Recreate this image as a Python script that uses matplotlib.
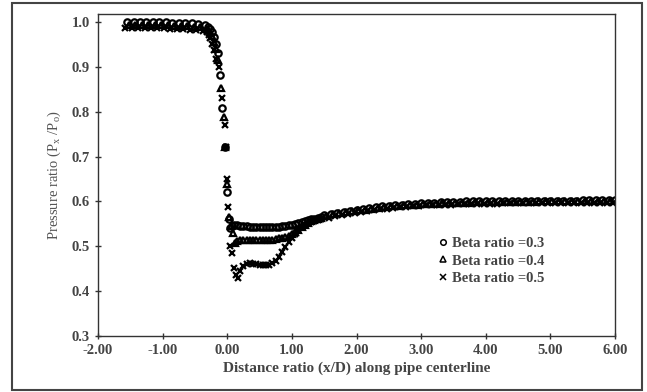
import numpy as np
import matplotlib.pyplot as plt
from matplotlib.patches import Rectangle
from matplotlib.lines import Line2D

# upstream plateau (x/D, P/Po) for each beta ratio
p_up_03 = [1.000, 1.000, 1.000, 1.000, 1.000, 1.000, 1.000, 0.999, 0.999, 0.998, 0.997, 0.996, 0.993]
p_up_04 = [0.993, 0.993, 0.993, 0.993, 0.993, 0.993, 0.993, 0.992, 0.992, 0.991, 0.990, 0.988, 0.985]
p_up_05 = [0.986, 0.986, 0.986, 0.986, 0.986, 0.986, 0.986, 0.985, 0.985, 0.984, 0.983, 0.982, 0.980]

# steep drop through the orifice
x_drop_03 = [-0.30, -0.27, -0.24, -0.21, -0.18, -0.15, -0.11, -0.08, -0.03, -0.01, 0.02, 0.05, 0.08, 0.11, 0.15]
p_drop_03 = [0.990, 0.985, 0.978, 0.967, 0.952, 0.930, 0.881, 0.808, 0.721, 0.621, 0.560, 0.541, 0.545, 0.547, 0.547]
x_drop_04 = [-0.30, -0.27, -0.24, -0.21, -0.18, -0.15, -0.10, -0.05, -0.03, -0.01, 0.03, 0.06, 0.09, 0.12]
p_drop_04 = [0.982, 0.977, 0.969, 0.956, 0.939, 0.915, 0.852, 0.788, 0.722, 0.640, 0.566, 0.545, 0.530, 0.507]
x_drop_05 = [-0.32, -0.29, -0.26, -0.23, -0.20, -0.17, -0.13, -0.08, -0.04, -0.02, -0.01, 0.015,
             0.05, 0.08, 0.11, 0.14, 0.17, 0.20]
p_drop_05 = [0.977, 0.972, 0.964, 0.952, 0.937, 0.917, 0.899, 0.830, 0.770, 0.722, 0.651, 0.588,
             0.500, 0.485, 0.452, 0.436, 0.430, 0.445]

# recirculation zone behind the orifice (step 0.05)
p_near_03 = [0.546, 0.545, 0.545, 0.544, 0.544, 0.543, 0.543, 0.543, 0.543, 0.543, 0.543, 0.544, 0.544,
             0.545, 0.546, 0.547, 0.548, 0.550, 0.552, 0.554, 0.556, 0.558, 0.560, 0.562, 0.564, 0.566]
p_near_04 = [0.512, 0.514, 0.515, 0.515, 0.515, 0.514, 0.514, 0.514, 0.514, 0.514, 0.514, 0.515, 0.516, 0.518,
             0.519, 0.521, 0.524, 0.528, 0.532, 0.537, 0.542, 0.547, 0.552, 0.556, 0.559, 0.561, 0.563]
p_near_05 = [0.455, 0.461, 0.462, 0.461, 0.460, 0.459, 0.458, 0.458, 0.459, 0.462, 0.467, 0.476, 0.487,
             0.498, 0.509, 0.519, 0.528, 0.536, 0.542, 0.547, 0.551, 0.554, 0.557, 0.559, 0.561]

# pressure recovery downstream (step 0.1)
p_tail_03 = [0.569, 0.572, 0.575, 0.577, 0.579, 0.581, 0.583, 0.585, 0.587, 0.589,
             0.590, 0.592, 0.593, 0.594, 0.595, 0.596, 0.597, 0.597, 0.598, 0.598,
             0.599, 0.599, 0.600, 0.600, 0.600, 0.601, 0.601, 0.601, 0.601, 0.601,
             0.602, 0.602, 0.602, 0.602, 0.602, 0.602, 0.602, 0.602, 0.602, 0.602,
             0.603, 0.603, 0.603, 0.603, 0.603, 0.603]
p_tail_04 = [0.567, 0.571, 0.574, 0.576, 0.578, 0.580, 0.582, 0.584, 0.586, 0.587,
             0.589, 0.590, 0.591, 0.592, 0.593, 0.594, 0.595, 0.595, 0.596, 0.596,
             0.597, 0.597, 0.597, 0.598, 0.598, 0.598, 0.598, 0.599, 0.599, 0.599,
             0.599, 0.599, 0.599, 0.600, 0.600, 0.600, 0.600, 0.600, 0.600, 0.600,
             0.600, 0.600, 0.600, 0.600, 0.600]
p_tail_05 = [0.563, 0.567, 0.570, 0.573, 0.575, 0.577, 0.579, 0.581, 0.583, 0.584,
             0.586, 0.587, 0.588, 0.589, 0.590, 0.591, 0.592, 0.592, 0.593, 0.593,
             0.594, 0.594, 0.594, 0.595, 0.595, 0.595, 0.595, 0.596, 0.596, 0.596,
             0.596, 0.596, 0.596, 0.597, 0.597, 0.597, 0.597, 0.597, 0.597, 0.597,
             0.597, 0.597, 0.597, 0.597, 0.597]

labels = ["Beta ratio =0.3", "Beta ratio =0.4", "Beta ratio =0.5"]
markers = ["o", "^", "x"]

# x positions of the sampled points for each segment
x_up_03 = np.linspace(-1.55, -0.35, len(p_up_03))
x_up_04 = np.linspace(-1.52, -0.32, len(p_up_04))
x_up_05 = np.linspace(-1.58, -0.38, len(p_up_05))
x_near_03 = np.linspace(0.20, 1.45, len(p_near_03))
x_near_04 = np.linspace(0.15, 1.45, len(p_near_04))
x_near_05 = np.linspace(0.25, 1.45, len(p_near_05))
x_tail_03 = np.linspace(1.50, 6.00, len(p_tail_03))
x_tail_04 = np.linspace(1.53, 5.93, len(p_tail_04))
x_tail_05 = np.linspace(1.57, 5.97, len(p_tail_05))

series = [
    (np.concatenate([x_up_03, x_drop_03, x_near_03, x_tail_03]),
     np.concatenate([p_up_03, p_drop_03, p_near_03, p_tail_03])),
    (np.concatenate([x_up_04, x_drop_04, x_near_04, x_tail_04]),
     np.concatenate([p_up_04, p_drop_04, p_near_04, p_tail_04])),
    (np.concatenate([x_up_05, x_drop_05, x_near_05, x_tail_05]),
     np.concatenate([p_up_05, p_drop_05, p_near_05, p_tail_05])),
]

plt.rcParams['font.family'] = ['Liberation Serif', 'DejaVu Serif']
plt.rcParams['mathtext.fontset'] = 'custom'
plt.rcParams['mathtext.rm'] = 'Liberation Serif'
plt.rcParams['mathtext.it'] = 'Liberation Serif'
plt.rcParams['axes.unicode_minus'] = False

fig = plt.figure(figsize=(6.47, 3.92), dpi=100)
ax = fig.add_axes([98 / 647, 1 - 336 / 392, 517 / 647, 322 / 392])

for (xs, ys), label, m in zip(series, labels, markers):
    ax.plot(xs, ys, linestyle="none", marker=m, markersize=4.6, markeredgewidth=1.6,
            markerfacecolor="none", markeredgecolor="black", color="black", label=label)

ax.set_xlim(-2, 6)
ax.set_ylim(0.3, 1.018)
ax.set_xticks(np.arange(-2, 7, 1))
ax.set_yticks(np.arange(0.3, 1.01, 0.1))
ax.set_xticklabels(["%.2f" % v for v in np.arange(-2, 7, 1)])
ax.set_yticklabels(["%.1f" % v for v in np.arange(0.3, 1.01, 0.1)])
ax.tick_params(direction="inout", length=5, width=1, labelsize=10.5, colors="#333333",
               labelcolor="#444444")
for lab in ax.get_xticklabels() + ax.get_yticklabels():
    lab.set_fontweight("bold")
for sp in ax.spines.values():
    sp.set_color("#333333")
    sp.set_linewidth(1)

ax.set_xlabel("Distance ratio (x/D) along pipe centerline", fontsize=11, fontweight="bold",
              color="#444444", labelpad=3)
ax.set_ylabel("Pressure ratio (P$_x$ /P$_o$)", fontsize=10.5, color="#555555", labelpad=6)

handles = [Line2D([], [], linestyle="none", marker=m, markersize=4, markeredgewidth=1.1,
                  markerfacecolor="none", markeredgecolor="black") for m in markers]
leg = ax.legend(handles, labels, loc="upper left", bbox_to_anchor=(0.645, 0.33), frameon=False,
                handlelength=0.6, handletextpad=0.3, labelspacing=0.28,
                borderpad=0, prop={"weight": "bold", "size": 10.5})
for t in leg.get_texts():
    t.set_color("#444444")

# outer frame around the chart
fig.patches.append(Rectangle((12 / 647, 2 / 392), 630 / 647, 387 / 392, transform=fig.transFigure,
                             fill=False, edgecolor="#444444", linewidth=1.5))

fig.savefig("out.png", dpi=100)
